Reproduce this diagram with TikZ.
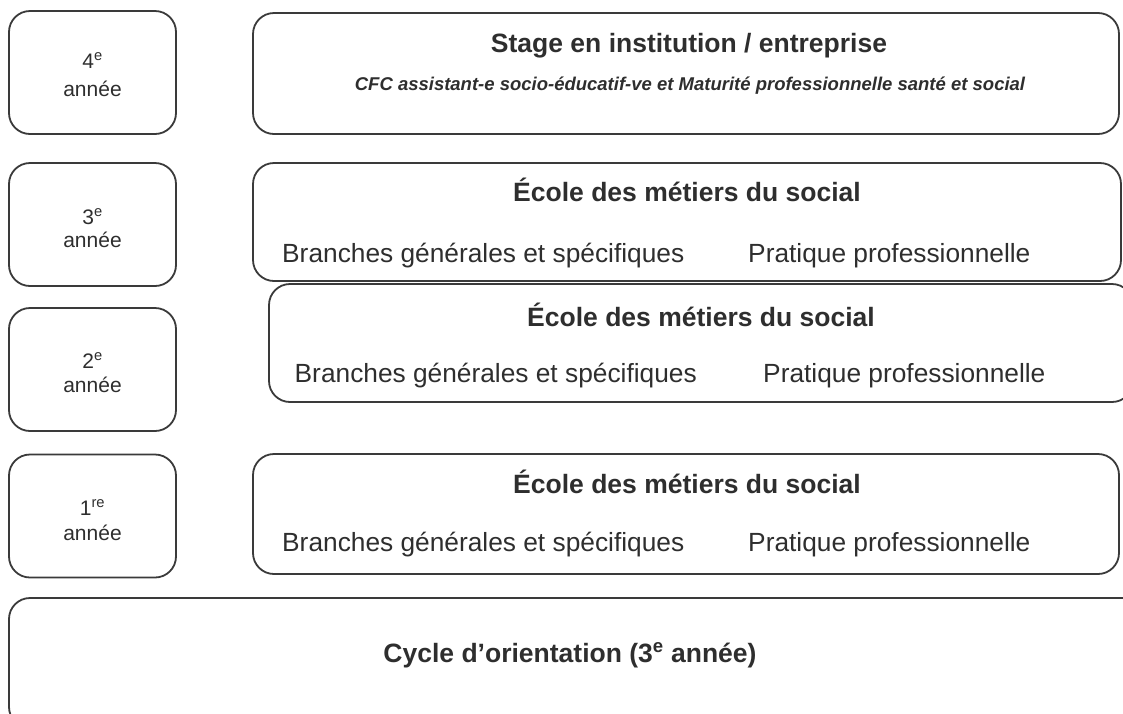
\documentclass[tikz,border=0pt]{standalone}
\usepackage{fontspec}
\setmainfont{Liberation Sans}
\definecolor{linegray}{HTML}{3A3A3A}
\definecolor{textgray}{HTML}{2E2E2E}
\tikzset{
  roundbox/.style={draw=linegray, line width=1.8pt, rounded corners=21pt, inner sep=0pt},
  yearbox/.style={roundbox, minimum width=167pt, minimum height=123pt},
  yeartext/.style={anchor=base, inner sep=0pt, text=textgray, font=\fontsize{21}{26}\selectfont},
  titletext/.style={anchor=base, inner sep=0pt, text=textgray, font=\fontsize{26.5}{30}\selectfont\bfseries},
  subtext/.style={anchor=base, inner sep=0pt, text=textgray, font=\fontsize{18.5}{22}\selectfont\bfseries\itshape},
  bodytext/.style={anchor=base west, inner sep=0pt, text=textgray, font=\fontsize{26.3}{30}\selectfont},
}
\begin{document}
\begin{tikzpicture}[x=1pt, y=-1pt]
    \useasboundingbox (0,0) rectangle (1123,713);
    \clip (0,0) rectangle (1123,713);

    % year column
    \node[yearbox] (y4) at (92.5,72.5) {};
    \node[yeartext] (y4num) at (92.5,68) {4\textsuperscript{e}};
    \node[yeartext] (y4word) at (92.5,96.5) {année};
    \node[yearbox] (y3) at (92.5,224.5) {};
    \node[yeartext] (y3num) at (92.5,224) {3\textsuperscript{e}};
    \node[yeartext] (y3word) at (92.5,247.5) {année};
    \node[yearbox] (y2) at (92.5,369.5) {};
    \node[yeartext] (y2num) at (92.5,368) {2\textsuperscript{e}};
    \node[yeartext] (y2word) at (92.5,392.5) {année};
    \node[yearbox] (y1) at (92.5,516) {};
    \node[yeartext] (y1num) at (92.5,515) {1\textsuperscript{re}};
    \node[yeartext] (y1word) at (92.5,540) {année};

    % stage
    \node[roundbox, minimum width=866pt, minimum height=121pt] (stage) at (686,73.5) {};
    \node[titletext] (stagetitle) at (689,52.5) {Stage en institution / entreprise};
    \node[subtext] (stagesub) at (690,90.5) {CFC assistant-e socio-éducatif-ve et Maturité professionnelle santé et social};

    % 2e annee (drawn first, 3e sits on top)
    \node[roundbox, minimum width=864pt, minimum height=118pt] (school2) at (701,343) {};
    \node[titletext] (school2title) at (701,326.5) {École des métiers du social};
    \node[bodytext] (school2gen) at (294.5,382) {Branches générales et spécifiques};
    \node[bodytext] (school2prat) at (763,382) {Pratique professionnelle};

    % 3e annee
    \node[roundbox, fill=white, minimum width=868pt, minimum height=118pt] (school3) at (687,222) {};
    \node[titletext] (school3title) at (687,201.5) {École des métiers du social};
    \node[bodytext] (school3gen) at (282,262) {Branches générales et spécifiques};
    \node[bodytext] (school3prat) at (748,262) {Pratique professionnelle};

    % 1re annee
    \node[roundbox, minimum width=866pt, minimum height=120pt] (school1) at (686,514) {};
    \node[titletext] (school1title) at (687,493) {École des métiers du social};
    \node[bodytext] (school1gen) at (282,551.5) {Branches générales et spécifiques};
    \node[bodytext] (school1prat) at (748,551.5) {Pratique professionnelle};

    % cycle d'orientation
    \node[roundbox, minimum width=1150pt, minimum height=130pt] (cycle) at (584,663) {};
    \node[titletext] (cycletitle) at (570,662) {Cycle d’orientation (3\textsuperscript{e} année)};
\end{tikzpicture}
\end{document}
